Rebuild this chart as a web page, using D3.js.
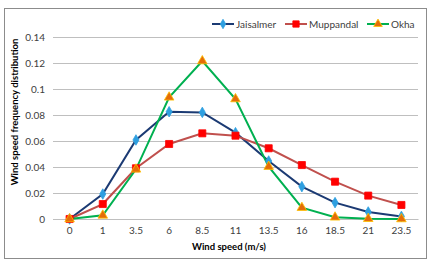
<!DOCTYPE html>
<html><head><meta charset="utf-8">
<script src="https://cdn.jsdelivr.net/npm/d3@7"></script>
<style>body{margin:0;background:#fff;} text{font-family:Lato,"Open Sans",sans-serif;}</style>
</head><body>
<svg id="c" width="438" height="267"></svg>
<script>
const categories = ["0","1","3.5","6","8.5","11","13.5","16","18.5","21","23.5"];
const jaisalmer = [0, 0.0192, 0.0608, 0.0825, 0.082, 0.0664, 0.0446, 0.0249, 0.0126, 0.0054, 0.002];
const muppandal = [0, 0.0115, 0.039, 0.0577, 0.0659, 0.0641, 0.0544, 0.0415, 0.0287, 0.018, 0.0108];
const okha = [0, 0.0028, 0.0382, 0.0936, 0.1215, 0.0923, 0.0403, 0.0087, 0.0013, 0.0002, 0];
const yTicks = [0, 0.02, 0.04, 0.06, 0.08, 0.1, 0.12, 0.14];
const yTickLabels = ["0","0.02","0.04","0.06","0.08","0.1","0.12","0.14"];
const seriesNames = ["Jaisalmer","Muppandal","Okha"];

const series = [
  {name: seriesNames[0], values: jaisalmer, line: "#1B3A73", fill: "#2E9FE0", stroke: "#2E9FE0", shape: d3.symbolDiamond, size: 32},
  {name: seriesNames[1], values: muppandal, line: "#C0504D", fill: "#FF0000", stroke: "#FF0000", shape: d3.symbolSquare, size: 50},
  {name: seriesNames[2], values: okha, line: "#00B050", fill: "#E46C0A", stroke: "#FFC000", shape: d3.symbolTriangle, size: 40}
];

const svg = d3.select("#c");
svg.append("rect").attr("x",4.5).attr("y",8.5).attr("width",422).attr("height",250)
  .attr("fill","#fff").attr("stroke","#8c8c8c").attr("stroke-width",1);

const L = 53, R = 418, T = 37, B = 219;
const x = d3.scaleBand().domain(categories).range([L, R]);
const y = d3.scaleLinear().domain([0, 0.14]).range([B, T]);

svg.append("g").selectAll("line").data(yTicks).join("line")
  .attr("x1", L).attr("x2", R).attr("y1", d => Math.round(y(d))+0.5).attr("y2", d => Math.round(y(d))+0.5)
  .attr("stroke", "#bfbfbf").attr("stroke-width", 1);

const yAxis = d3.axisLeft(y).tickValues(yTicks).tickFormat((d,i)=>yTickLabels[i]).tickSize(0).tickPadding(8);
const gy = svg.append("g").attr("transform", `translate(${L},0)`).call(yAxis);
gy.select(".domain").remove();
gy.selectAll("text").attr("font-size", 10).attr("fill", "#404040").style("font-family","Lato,sans-serif");

const xAxis = d3.axisBottom(x).tickSize(0).tickPadding(8);
const gx = svg.append("g").attr("transform", `translate(0,${B})`).call(xAxis);
gx.select(".domain").attr("stroke","#bfbfbf");
gx.selectAll("text").attr("font-size", 10).attr("fill", "#404040").style("font-family","Lato,sans-serif");

const line = d3.line().x((d,i)=>x(categories[i]) + x.bandwidth()/2).y(d=>y(d));

series.forEach(s => {
  svg.append("path").datum(s.values).attr("d", line).attr("fill","none")
    .attr("stroke", s.line).attr("stroke-width", 2);
});
series.forEach(s => {
  svg.append("g").selectAll("path").data(s.values).join("path")
    .attr("d", d3.symbol().type(s.shape).size(s.size))
    .attr("transform", (d,i)=>`translate(${x(categories[i]) + x.bandwidth()/2},${y(d)})`)
    .attr("fill", s.fill).attr("stroke", s.stroke).attr("stroke-width", 0.8);
});

const legX = [212, 285, 367];
series.forEach((s,i) => {
  const g = svg.append("g").attr("transform", `translate(${legX[i]},24)`);
  g.append("line").attr("x1",0).attr("x2",22).attr("y1",0).attr("y2",0).attr("stroke", s.line).attr("stroke-width",2);
  g.append("path").attr("d", d3.symbol().type(s.shape).size(s.size*0.8)).attr("transform","translate(11,0)")
    .attr("fill", s.fill).attr("stroke", s.stroke).attr("stroke-width",0.8);
  g.append("text").attr("x",24).attr("y",3.5).attr("font-size",10).attr("fill","#404040").text(s.name);
});

svg.append("text").attr("x", 229).attr("y", 250).attr("text-anchor","middle")
  .attr("font-size",9.5).attr("font-weight","bold").attr("fill","#000").text("Wind speed (m/s)");
svg.append("text").attr("transform","translate(18,112) rotate(-90)").attr("text-anchor","middle")
  .attr("font-size",9.5).attr("font-weight","bold").attr("fill","#000").text("Wind speed frequency distribution");
</script>
</body></html>
